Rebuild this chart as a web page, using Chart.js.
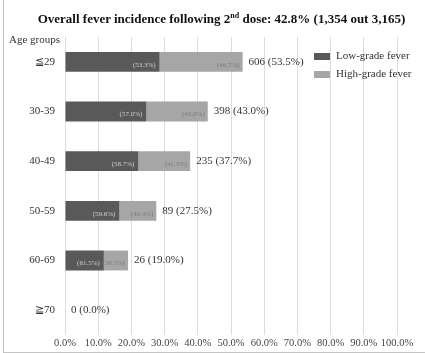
<!DOCTYPE html>
<html>
<head>
<meta charset="utf-8">
<script src="https://cdn.jsdelivr.net/npm/chart.js@4/dist/chart.umd.min.js"></script>
<style>
  html, body { margin: 0; padding: 0; background: #fff; }
  .wrap { position: relative; width: 425px; height: 353px; }
  .frame { position: absolute; left: 3px; top: 0; width: 422px; height: 352px; border-left: 1px solid #c4c4c4; border-bottom: 1px solid #c4c4c4; }
  .title { position: absolute; left: 0; top: 11px; width: 443px; text-align: center; font: bold 13px "Liberation Serif", serif; color: #111; white-space: nowrap; }
  .title sup { font-size: 8px; }
  .ylab { position: absolute; left: 9px; top: 33px; font: 11px "Liberation Serif", serif; color: #333; }
  canvas { position: absolute; left: 0; top: 0; }
</style>
</head>
<body>
<div class="wrap">
  <div class="frame"></div>
  <canvas id="chart" width="425" height="353"></canvas>
  <div class="title">Overall fever incidence following 2<sup>nd</sup> dose: 42.8% (1,354 out 3,165)</div>
  <div class="ylab">Age groups</div>
</div>
<script>
// data
var ageGroups = ['≦29', '30-39', '40-49', '50-59', '60-69', '≧70'];
var lowGrade = [28.5, 24.5, 22.1, 16.4, 11.7, 0];
var highGrade = [25.0, 18.5, 15.6, 11.1, 7.3, 0];
var lowShare = ['(53.3%)', '(57.0%)', '(58.7%)', '(59.6%)', '(61.5%)', ''];
var highShare = ['(46.7%)', '(43.0%)', '(41.3%)', '(40.4%)', '(38.5%)', ''];
var totals = ['606 (53.5%)', '398 (43.0%)', '235 (37.7%)', '89 (27.5%)', '26 (19.0%)', '0 (0.0%)'];

var serif = '"Liberation Serif", "Times New Roman", serif';

// draws the share labels inside bars, totals after bars and the legend box
var labelPlugin = {
    id: 'labels',
    afterDatasetsDraw: function(chart) {
        var ctx = chart.ctx;
        var low = chart.getDatasetMeta(0).data;
        var high = chart.getDatasetMeta(1).data;
        ctx.save();
        ctx.textBaseline = 'middle';
        ctx.font = '7px ' + serif;
        ctx.textAlign = 'right';
        for (var i = 0; i < ageGroups.length; i++) {
            if (lowShare[i]) {
                ctx.fillStyle = '#d0d0d0';
                ctx.fillText(lowShare[i], low[i].x - 4, low[i].y + 3);
                ctx.fillStyle = '#7a7a7a';
                ctx.fillText(highShare[i], high[i].x - 3, high[i].y + 3);
            }
        }
        ctx.font = '11px ' + serif;
        ctx.textAlign = 'left';
        ctx.fillStyle = '#333';
        for (var j = 0; j < ageGroups.length; j++) {
            ctx.fillText(totals[j], high[j].x + 6, high[j].y);
        }
        // legend
        var ds = chart.data.datasets;
        for (var k = 0; k < ds.length; k++) {
            var y = 56 + k * 18;
            ctx.fillStyle = ds[k].backgroundColor;
            ctx.fillRect(314, y - 3, 16, 7);
            ctx.fillStyle = '#333';
            ctx.fillText(ds[k].label, 336, y);
        }
        ctx.restore();
    }
};

new Chart(document.getElementById('chart'), {
    type: 'bar',
    data: {
        labels: ageGroups,
        datasets: [
            { label: 'Low-grade fever', data: lowGrade, backgroundColor: '#595959' },
            { label: 'High-grade fever', data: highGrade, backgroundColor: '#a6a6a6' }
        ]
    },
    options: {
        indexAxis: 'y',
        responsive: false,
        animation: false,
        layout: { padding: { top: 37, right: 28, bottom: 0, left: 0 } },
        datasets: { bar: { categoryPercentage: 1, barPercentage: 0.4 } },
        scales: {
            x: {
                stacked: true,
                min: 0,
                max: 100,
                ticks: {
                    stepSize: 10,
                    maxRotation: 0,
                    autoSkip: false,
                    padding: 2,
                    color: '#444',
                    font: { family: serif, size: 10.5 },
                    callback: function(v) { return v.toFixed(1) + '%'; }
                },
                grid: { color: '#dcdcdc', drawTicks: false },
                border: { display: false },
                afterFit: function(scale) { scale.height = 18; }
            },
            y: {
                stacked: true,
                ticks: { color: '#333', padding: 2, font: { family: serif, size: 11 } },
                grid: { display: false },
                border: { display: false },
                afterFit: function(scale) { scale.width = 65; }
            }
        },
        plugins: {
            legend: { display: false },
            tooltip: { enabled: false }
        }
    },
    plugins: [labelPlugin]
});
</script>
</body>
</html>
